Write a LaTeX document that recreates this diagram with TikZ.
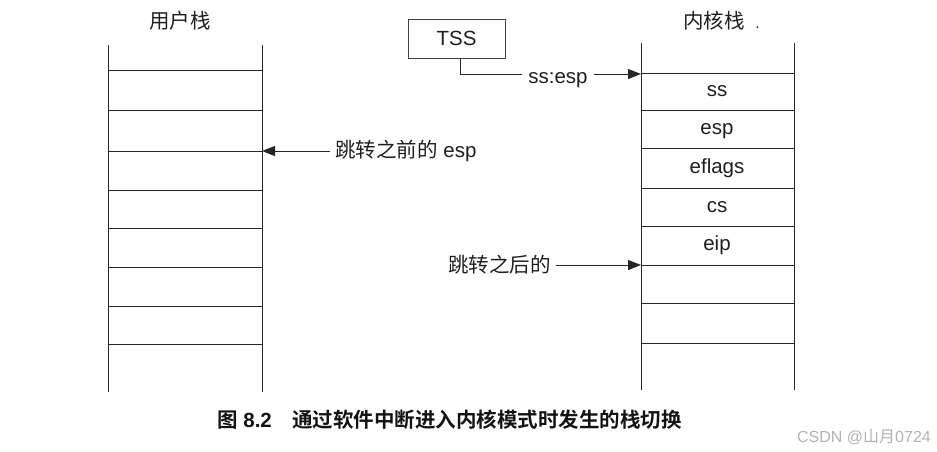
\documentclass[tikz,border=0pt]{standalone}
\usepackage{fontspec}
\setmainfont{Liberation Sans}
\newfontfamily\cjk{Noto Sans CJK SC}[BoldFont={Noto Sans CJK SC Bold}]
\usetikzlibrary{arrows.meta}
\begin{document}
\begin{tikzpicture}[x=1pt,y=-1pt,
  font=\fontsize{20.5}{24}\selectfont,
  stackline/.style={draw=black!85,line width=1pt},
  lbl/.style={inner sep=0pt,text=black!88},
  arr/.style={draw=black!85,line width=1pt,-{Triangle[length=13pt,width=10pt]}},
  conn/.style={draw=black!85,line width=1pt}]
\useasboundingbox (0,0) rectangle (937,451);
% user stack
\draw[stackline] (108,45) -- (108,392);
\draw[stackline] (262,45) -- (262,392);
\foreach \y in {70,110,151,190,228,267,306,344}
  \draw[stackline] (108,\y) -- (262,\y);
% kernel stack
\draw[stackline] (641,43) -- (641,390);
\draw[stackline] (794,43) -- (794,390);
\foreach \y in {73,110,148,188,226,265,303,343}
  \draw[stackline] (641,\y) -- (794,\y);
% titles
\node[lbl] (utitle) at (180,21) {\cjk 用户栈};
\node[lbl,anchor=west] (ktitle) at (683,21) {\cjk 内核栈\hspace{11pt}{\fontsize{14}{16}\selectfont .}};
% cell labels
\node[lbl,anchor=base] (kss) at (717,96.5) {ss};
\node[lbl,anchor=base] (kesp) at (717,134) {esp};
\node[lbl,anchor=base] (keflags) at (717,173) {eflags};
\node[lbl,anchor=base] (kcs) at (717,212) {cs};
\node[lbl,anchor=base] (keip) at (717,250.5) {eip};
% TSS
\node[draw=black!75,line width=1pt,lbl,minimum width=97pt,minimum height=39pt] (tss) at (456.5,38.5) {TSS};
\node[lbl,anchor=base,inner xsep=6pt] (ssesp) at (558,83) {ss:esp};
\coordinate (ktop) at (641,74);
\draw[conn] ([xshift=4pt]tss.south) |- (ssesp.west |- ktop);
\draw[arr] (ssesp.east |- ktop) -- (ktop);
% before / after
\coordinate (ubefore) at (262,151);
\node[lbl,anchor=west,inner xsep=5pt] (before) at (330,151) {{\cjk 跳转之前的} esp};
\draw[arr] (before.west |- ubefore) -- (ubefore);
\coordinate (kafter) at (641,265);
\node[lbl,anchor=east,inner xsep=5pt] (after) at (556,265) {\cjk 跳转之后的};
\draw[arr] (after.east |- kafter) -- (kafter);
% caption
\node[lbl,anchor=west,text=black!92,font=\fontsize{20.5}{24}\selectfont] (cap) at (217,420) {{\cjk\bfseries 图} {\bfseries 8.2}\hspace{1em}{\cjk\bfseries 通过软件中断进入内核模式时发生的栈切换}};
% watermark
\node[lbl,anchor=east,text=black!30,font=\fontsize{16}{18}\selectfont] (wm) at (931,437) {CSDN @{\cjk 山月}0724};
\end{tikzpicture}
\end{document}
